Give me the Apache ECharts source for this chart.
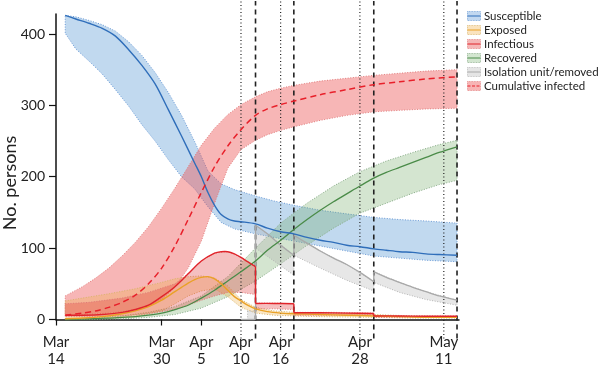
<!DOCTYPE html>
<html><head><meta charset="utf-8">
<script src="https://cdn.jsdelivr.net/npm/echarts@6/dist/echarts.min.js"></script>
<style>html,body{margin:0;padding:0;background:#fff}#c{width:600px;height:371px}</style>
</head><body><div id="c"></div>
<script>
// ---------- DATA (x = days since Mar 14) ----------
const tickDays = [0, 16, 22, 28, 34, 46, 58.7];
const tickLabels = ['Mar\n14', 'Mar\n30', 'Apr\n5', 'Apr\n10', 'Apr\n16', 'Apr\n28', 'May\n11'];
const plainTickDays = [0, 16, 22];
const dottedDays = [28, 34, 46, 58.7];
const dashedDays = [30.2, 36, 48.1, 60.7];
const yTitle = 'No. persons';

// Susceptible
const S_days = [1.4,3,5,7,9,11,13,15,17,19,21,22,23,24,25,26,27,28,30.2,32,34,36,38,40,42,44,46,48.1,50,52,54,56,58,60.7];
const S_line = [426,421,415,408,397,378,356,330,294,257,219,200,178,160,147,141,138,137,134,128,123,120,115,111,108,104,102,99,97,95,94,92,91,90];
const S_bandDays = [1.4,3,5,7,9,11,13,15,17,19,21,23,25,27,30.2,33,36,40,44,48.1,52,56,60.7];
const S_hi = [426,424,419,413,404,389,370,346,318,286,249,208,190,182,173,166,160,153,148,143,140,138,135];
const S_lo = [401,379,362,344,322,299,273,250,224,200,183,158,136,127,120,115,110,103,96,89,86,83,81];

// Exposed
const E_days = [1.4,4,7,10,12,14,16,18,19,20,21,22,23,24,25,26,27,28,29,30.2,32,34,36,40,44,48.1,52,56,60.7];
const E_line = [1,2,4,8,12,18,27,39,45,51,56,59,60,57,50,41,32,26,20,15,11,9,8,7,6,5,4,3,3];
const E_bandDays = [1.4,4,8,12,16,18,20,22,24,26,28,30.2,33,36,40,48.1,54,60.7];
const E_hi = [26,30,36,43,52,57,60,61,58,47,28,17,12,10,9,7,5,4];
const E_lo = [0,1,2,4,12,22,33,40,43,32,17,9,6,5,4,3,2,2];

// Infectious
const I_days = [1.4,4,7,10,12,14,16,18,20,22,24,25,26,27,28,29,30.2,30.2,33,36,36,40,44,48.1,48.1,52,56,60.7];
const I_line = [6,6,7,10,14,20,32,46,64,82,93,95,95,92,87,81,74,22.5,22.5,22,9.5,9.5,9,8.5,5,5,4.5,4.5];
const I_bandDays = [1.4,5,10,14,18,20,22,24,26,28,30.2,30.2,33,36,36,42,48.1,48.1,54,60.7];
const I_hi = [22,24,30,38,50,64,82,93,95,87,74,23,23,22,10,10,9,5,5,5];
const I_lo = [4,4,5,8,14,20,27,33,38,38,35,15,15,14,6,6,6,3,3,3];

// Recovered
const R_days = [1.4,5,8,10,12,14,16,18,20,22,24,26,28,30.2,32,34,36,38,40,42,44,46,48.1,50,52,54,56,58,60.7];
const R_line = [0,1,2,3,4,6,9,14,20,30,41,54,67,82,97,111,126,140,153,165,176,187,198,206,213,220,227,234,242];
const R_bandDays = [1.4,6,10,14,18,22,26,30.2,34,38,42,46,50,54,58,60.7];
const R_hi = [0,2,5,10,18,33,60,100,135,163,187,207,222,234,245,251];
const R_lo = [0,0,1,3,7,16,32,54,78,104,128,149,163,177,189,195];

// Isolation unit / removed
const G_days = [28,30.2,30.2,32,34,36,36,38,40,42,44,46,48.1,48.1,50,52,54,56,58,60.7];
const G_line = [0,0,132,120,104,90,118,107,96,86,77,66,53,67,59,52,45,39,33,27];
const G_bandDays = [29,30.2,30.2,33,36,36,40,44,48.1,48.1,52,56,60.7];
const G_hi = [12,12,132,113,90,118,96,77,53,67,52,39,27];
const G_lo = [0,0,100,82,62,90,72,55,40,52,38,28,20];

// Cumulative infected
const C_days = [1.4,4,6,8,10,12,14,16,18,20,22,24,26,28,30.2,32,34,36,40,44,48.1,52,56,60.7];
const C_line = [6,9,12,17,24,34,50,72,103,140,178,214,243,266,286,295,301,306,315,322,329,333,337,340];
const C_hi = [33,46,58,72,89,108,130,156,184,214,244,268,287,301,312,319,324,328,334,338,342,345,348,350];
const C_lo = [6,7,8,9,11,14,19,28,45,72,110,163,212,238,251,259,265,270,279,286,291,293,295,296];

const Y_MAX = 428, X_MAX = 61;
const FONT = 'Lato';

// ---------- HELPERS ----------
function bandSeries(name, days, lo, hi, fill, edge, z) {
  const data = days.map((d, i) => [d, lo[i], hi[i]]);
  return {
    type: 'custom', name, data, z, silent: true,
    encode: { x: 0, y: [1, 2] },
    renderItem(params, api) {
      if (params.dataIndex !== 0) return null;
      const top = data.map(p => api.coord([p[0], p[2]]));
      const bot = data.map(p => api.coord([p[0], p[1]]));
      return {
        type: 'polygon',
        shape: { points: top.concat(bot.slice().reverse()) },
        style: { fill, stroke: edge, lineWidth: 1, lineDash: [1, 1.6] }
      };
    }
  };
}
function lineSeries(name, days, vals, color, width, dash, z) {
  const data = days.map((d, i) => [d, vals[i]]);
  return {
    type: 'custom', name, data, z, silent: true,
    encode: { x: 0, y: 1 },
    renderItem(params, api) {
      if (params.dataIndex !== 0) return null;
      const segs = [[]], jumps = [];
      data.forEach((p, i) => {
        const c = api.coord(p);
        if (i > 0 && p[0] === data[i - 1][0]) {
          jumps.push([api.coord(data[i - 1]), c]);
          segs.push([]);
        }
        segs[segs.length - 1].push(c);
      });
      const style = { stroke: color, lineWidth: width, fill: null, lineDash: dash || null };
      const children = segs.filter(s => s.length > 1).map(s => ({
        type: 'polyline', shape: { points: s, smooth: 0.3 }, style
      }));
      jumps.forEach(j => children.push({ type: 'polyline', shape: { points: j }, style }));
      return { type: 'group', children };
    }
  };
}
function guideSeries(days, dash, width, z) {
  return {
    type: 'custom', name: 'guide', data: days.map(d => [d, 0]), z, silent: true, clip: false,
    encode: { x: 0, y: 1 },
    renderItem(params, api) {
      const d = api.value(0);
      const p0 = api.coord([d, 0]);
      const p1 = api.coord([d, Y_MAX]);
      return {
        type: 'line',
        shape: { x1: p0[0], y1: p0[1] + 19, x2: p1[0], y2: p1[1] - 13 },
        style: { stroke: '#222', lineWidth: width, lineDash: dash }
      };
    }
  };
}
function icon(fill, edge, line, dashed) {
  const svg = '<svg xmlns="http://www.w3.org/2000/svg" width="28" height="20">' +
    '<rect x="1" y="1" width="26" height="18" fill="' + fill + '" stroke="' + edge + '" stroke-width="1.6" stroke-dasharray="1.6,1.6"/>' +
    '<line x1="1" y1="10" x2="27" y2="10" stroke="' + line + '" stroke-width="2"' + (dashed ? ' stroke-dasharray="6,3"' : '') + '/></svg>';
  return 'image://data:image/svg+xml;charset=utf-8,' + encodeURIComponent(svg);
}

// ---------- COLOURS ----------
const col = {
  S: { line: '#2F6EBA', fill: 'rgba(91,155,213,0.38)', edge: '#6A9AD6', solid: '#C2D8F0' },
  E: { line: '#E9A126', fill: 'rgba(240,175,70,0.30)', edge: '#D9B46A', solid: '#FAE3BE' },
  I: { line: '#E0242B', fill: 'rgba(225,60,60,0.32)', edge: '#E07A7A', solid: '#F5B7B7' },
  R: { line: '#4A8B48', fill: 'rgba(112,170,100,0.30)', edge: '#86AA86', solid: '#D3E6D0' },
  G: { line: '#A9A9A9', fill: 'rgba(170,170,170,0.28)', edge: '#B5B5B5', solid: '#E5E5E5' },
  C: { line: '#E8202A', fill: 'rgba(236,80,80,0.42)', edge: '#E27C7C', solid: '#F7B4B4' }
};
const names = {
  S: 'Susceptible', E: 'Exposed', I: 'Infectious', R: 'Recovered',
  G: 'Isolation unit/removed', C: 'Cumulative infected'
};

const series = [
  bandSeries(names.S, S_bandDays, S_lo, S_hi, col.S.fill, col.S.edge, 1),
  bandSeries(names.C, C_days, C_lo, C_hi, col.C.fill, col.C.edge, 1),
  bandSeries(names.R, R_bandDays, R_lo, R_hi, col.R.fill, col.R.edge, 1),
  bandSeries(names.E, E_bandDays, E_lo, E_hi, col.E.fill, col.E.edge, 1),
  bandSeries(names.I, I_bandDays, I_lo, I_hi, col.I.fill, col.I.edge, 1),
  bandSeries(names.G, G_bandDays, G_lo, G_hi, col.G.fill, col.G.edge, 1),
  guideSeries(dottedDays, [1, 2.5], 1.2, 2),
  guideSeries(dashedDays, [5, 4], 1.6, 2),
  lineSeries(names.G, G_days, G_line, col.G.line, 1.3, null, 3),
  lineSeries(names.R, R_days, R_line, col.R.line, 1.3, null, 3),
  lineSeries(names.E, E_days, E_line, col.E.line, 1.4, null, 3),
  lineSeries(names.I, I_days, I_line, col.I.line, 1.4, null, 3),
  lineSeries(names.S, S_days, S_line, col.S.line, 1.4, null, 3),
  lineSeries(names.C, C_days, C_line, col.C.line, 1.5, [6, 4], 3)
];

const chart = echarts.init(document.getElementById('c'), null, { renderer: 'canvas' });
chart.setOption({
  animation: false,
  backgroundColor: '#fff',
  textStyle: { fontFamily: FONT },
  grid: { left: 56, right: 141, top: 14, bottom: 51.5, containLabel: false, outerBoundsMode: 'none' },
  graphic: [{
    type: 'text', x: 10, y: 183, rotation: Math.PI / 2, silent: true,
    style: { text: yTitle, fontSize: 18, fontFamily: FONT, fill: '#222', align: 'center', verticalAlign: 'middle' }
  }],
  legend: {
    orient: 'vertical', left: 467, top: 10, padding: 0, itemWidth: 14, itemHeight: 10, itemGap: 2,
    textStyle: { fontFamily: FONT, fontSize: 11.5, color: '#222', padding: [0, 0, 0, -2] },
    selectedMode: false,
    data: ['S', 'E', 'I', 'R', 'G', 'C'].map(k => ({
      name: names[k], icon: icon(col[k].solid, col[k].edge, col[k].line, k === 'C')
    }))
  },
  xAxis: {
    type: 'value', min: 0, max: X_MAX,
    splitLine: { show: false },
    axisLine: { lineStyle: { color: '#111', width: 1.5 } },
    axisTick: { customValues: plainTickDays, length: 6, lineStyle: { color: '#111', width: 1.2 } },
    axisLabel: {
      customValues: tickDays, margin: 14, fontSize: 15, color: '#222', lineHeight: 17, fontFamily: FONT,
      formatter: v => { const i = tickDays.findIndex(t => Math.abs(t - v) < 1e-6); return i >= 0 ? tickLabels[i] : ''; }
    }
  },
  yAxis: {
    type: 'value', min: 0, max: Y_MAX, interval: 100,
    splitLine: { show: false },
    axisLine: { show: true, lineStyle: { color: '#111', width: 1.5 } },
    axisTick: { show: true, length: 7, lineStyle: { color: '#111', width: 1.2 } },
    axisLabel: { fontSize: 14, color: '#222', margin: 11, fontFamily: FONT, showMaxLabel: false }
  },
  series
});
</script></body></html>
